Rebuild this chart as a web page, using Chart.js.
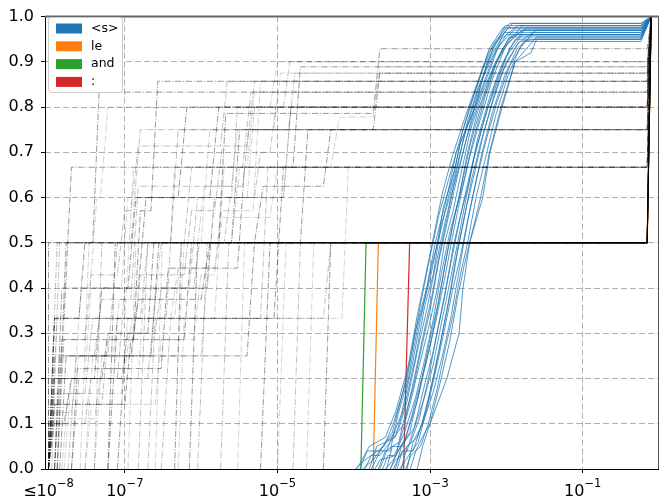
<!DOCTYPE html>
<html>
<head>
<meta charset="utf-8">
<script src="https://cdn.jsdelivr.net/npm/chart.js@4/dist/chart.umd.min.js"></script>
<style>
  html, body { margin: 0; padding: 0; background: #fff; }
  #wrap { width: 664px; height: 499px; }
</style>
</head>
<body>
<div id="wrap"><canvas id="chart" width="664" height="499"></canvas></div>
<script>
// axis ticks
const X_TICKS = [1e-8, 1e-7, 1e-5, 1e-3, 1e-1]
const X_TICK_PREFIX = ['≤', '', '', '', '']
const X_TICK_EXPONENTS = ['−8', '−7', '−5', '−3', '−1']
const Y_TICKS = [0, 0.1, 0.2, 0.3, 0.4, 0.5, 0.6, 0.7, 0.8, 0.9, 1.0]

// legend
const LEGEND_LABELS = ['<s>', 'le', 'and', ':']
const LEGEND_COLORS = ['#1f77b4', '#ff7f0e', '#2ca02c', '#d62728']

// curves as [x, y] pairs
const SERIES_LE = [[1.8e-4, 0], [2.1e-4, 0.5], [0.7, 0.5], [0.79, 1]]
const SERIES_AND = [[1.24e-4, 0], [1.45e-4, 0.5], [0.7, 0.5], [0.79, 1]]
const SERIES_COLON = [[4.5e-4, 0], [5.4e-4, 0.5], [0.7, 0.5], [0.79, 1]]

const SERIES_S = [
  [[1.05e-4,0],[1.4e-4,0.02],[2.5e-4,0.05],[3.3e-4,0.1],[5e-4,0.2],[6.3e-4,0.3],[9e-4,0.4],[1.17e-3,0.5],[1.66e-3,0.6],[2.2e-3,0.7],[3.9e-3,0.8],[5.6e-3,0.9],[9.6e-3,0.98],[0.58,0.98],[0.79,1]],
  [[1.2e-4,0],[1.5e-4,0.04],[3e-4,0.04],[3.8e-4,0.12],[5.2e-4,0.2],[7e-4,0.32],[1e-3,0.42],[1.25e-3,0.5],[1.5e-3,0.58],[2.1e-3,0.66],[2.6e-3,0.74],[4e-3,0.84],[5.8e-3,0.92],[1.05e-2,0.975],[0.58,0.975],[0.79,1]],
  [[1.4e-4,0],[1.7e-4,0.03],[2.2e-4,0.03],[3e-4,0.06],[4.2e-4,0.12],[6e-4,0.24],[7.5e-4,0.33],[1.05e-3,0.45],[1.35e-3,0.52],[1.9e-3,0.63],[2.5e-3,0.72],[3.5e-3,0.78],[5e-3,0.87],[7e-3,0.94],[1.2e-2,0.985],[0.58,0.985],[0.79,1]],
  [[1.6e-4,0],[2e-4,0.05],[3.5e-4,0.07],[4.8e-4,0.15],[6.5e-4,0.25],[8.5e-4,0.36],[1.1e-3,0.43],[1.4e-3,0.54],[1.8e-3,0.6],[2.4e-3,0.69],[3.2e-3,0.77],[4.5e-3,0.85],[6.5e-3,0.91],[1e-2,0.96],[0.58,0.96],[0.79,1]],
  [[1.9e-4,0],[2.2e-4,0.02],[3.6e-4,0.03],[4.4e-4,0.1],[6e-4,0.18],[8e-4,0.28],[1e-3,0.35],[1.3e-3,0.46],[1.7e-3,0.55],[2.3e-3,0.65],[3e-3,0.73],[4.4e-3,0.82],[6e-3,0.88],[8.5e-3,0.95],[1.4e-2,0.98],[0.58,0.98],[0.79,1]],
  [[2.1e-4,0],[2.6e-4,0.04],[4e-4,0.06],[5.4e-4,0.14],[7e-4,0.22],[9.5e-4,0.31],[1.25e-3,0.4],[1.55e-3,0.5],[2e-3,0.57],[2.6e-3,0.66],[3.4e-3,0.75],[4.8e-3,0.83],[7.2e-3,0.9],[1.1e-2,0.955],[0.58,0.955],[0.79,1]],
  [[2.4e-4,0],[2.8e-4,0.03],[3.4e-4,0.03],[4.6e-4,0.08],[6.5e-4,0.16],[8.2e-4,0.23],[1.1e-3,0.33],[1.4e-3,0.43],[1.8e-3,0.52],[2.4e-3,0.6],[3.1e-3,0.7],[4.2e-3,0.79],[6.2e-3,0.87],[9e-3,0.93],[1.6e-2,0.97],[0.58,0.97],[0.79,1]],
  [[2.7e-4,0],[3.2e-4,0.05],[4.5e-4,0.05],[5.8e-4,0.12],[7.8e-4,0.2],[1e-3,0.27],[1.3e-3,0.37],[1.65e-3,0.47],[2.1e-3,0.56],[2.8e-3,0.64],[3.6e-3,0.72],[5.2e-3,0.82],[7.5e-3,0.9],[1.2e-2,0.96],[0.58,0.96],[0.79,1]],
  [[3e-4,0],[3.5e-4,0.02],[5e-4,0.04],[6.4e-4,0.1],[8.6e-4,0.19],[1.1e-3,0.26],[1.45e-3,0.36],[1.8e-3,0.44],[2.3e-3,0.53],[3e-3,0.62],[3.9e-3,0.7],[5.5e-3,0.79],[7.8e-3,0.86],[1.1e-2,0.93],[1.8e-2,0.975],[0.58,0.975],[0.79,1]],
  [[3.3e-4,0],[4e-4,0.03],[5.6e-4,0.06],[7.2e-4,0.11],[9.5e-4,0.2],[1.2e-3,0.29],[1.55e-3,0.38],[2e-3,0.49],[2.5e-3,0.56],[3.2e-3,0.63],[4.2e-3,0.73],[6e-3,0.82],[8.5e-3,0.89],[1.3e-2,0.95],[0.58,0.95],[0.79,1]],
  [[3.7e-4,0],[4.3e-4,0.04],[6e-4,0.04],[7.8e-4,0.1],[1e-3,0.17],[1.3e-3,0.26],[1.7e-3,0.36],[2.1e-3,0.45],[2.7e-3,0.54],[3.5e-3,0.64],[4.6e-3,0.72],[6.3e-3,0.8],[9e-3,0.88],[1.4e-2,0.94],[2.2e-2,0.965],[0.58,0.965],[0.79,1]],
  [[4.2e-4,0],[5e-4,0.05],[6.8e-4,0.07],[8.5e-4,0.12],[1.1e-3,0.2],[1.45e-3,0.3],[1.9e-3,0.4],[2.4e-3,0.5],[3e-3,0.58],[3.9e-3,0.66],[5e-3,0.74],[7e-3,0.83],[1e-2,0.9],[1.5e-2,0.945],[2.5e-2,0.95],[0.58,0.95],[0.79,1]],
  [[4.8e-4,0],[5.6e-4,0.03],[7.5e-4,0.05],[9.5e-4,0.1],[1.25e-3,0.18],[1.6e-3,0.27],[2e-3,0.34],[2.5e-3,0.43],[3.1e-3,0.5],[4e-3,0.6],[5.2e-3,0.68],[7.2e-3,0.78],[1.05e-2,0.87],[1.5e-2,0.93],[2.4e-2,0.97],[0.58,0.97],[0.79,1]],
  [[5.5e-4,0],[6.5e-4,0.04],[8.5e-4,0.08],[1e-3,0.1],[1.4e-3,0.2],[1.8e-3,0.28],[2.3e-3,0.38],[2.8e-3,0.45],[3.3e-3,0.5],[4.6e-3,0.6],[6e-3,0.7],[8.5e-3,0.8],[1.3e-2,0.9],[2.5e-2,0.955],[0.58,0.955],[0.79,1]],
  [[6.8e-4,0],[8e-4,0.05],[1e-3,0.1],[1.66e-3,0.2],[2.4e-3,0.3],[2.7e-3,0.4],[3.3e-3,0.5],[4.9e-3,0.6],[6.1e-3,0.7],[8.8e-3,0.8],[1.3e-2,0.9],[2.1e-2,0.92],[2.5e-2,0.95],[0.58,0.95],[0.79,1]],
  [[1.3e-4,0],[1.8e-4,0.02],[3.2e-4,0.08],[4.4e-4,0.17],[5.8e-4,0.26],[7.6e-4,0.37],[1e-3,0.47],[1.3e-3,0.56],[1.75e-3,0.64],[2.3e-3,0.71],[3.3e-3,0.8],[4.8e-3,0.88],[6.8e-3,0.94],[1.1e-2,0.985],[0.58,0.985],[0.79,1]],
  [[1.7e-4,0],[2.4e-4,0.05],[3.9e-4,0.09],[5e-4,0.15],[7e-4,0.27],[9e-4,0.35],[1.15e-3,0.44],[1.5e-3,0.53],[2e-3,0.62],[2.7e-3,0.7],[3.7e-3,0.79],[5.2e-3,0.86],[7.5e-3,0.93],[1.25e-2,0.97],[0.58,0.97],[0.79,1]],
  [[2.2e-4,0],[3e-4,0.06],[4.6e-4,0.1],[6.2e-4,0.2],[8e-4,0.29],[1.05e-3,0.38],[1.35e-3,0.48],[1.75e-3,0.57],[2.3e-3,0.67],[3e-3,0.76],[4.2e-3,0.84],[6.2e-3,0.91],[9.5e-3,0.965],[0.58,0.965],[0.79,1]],
  [[2.6e-4,0],[3.3e-4,0.02],[4.8e-4,0.07],[6.8e-4,0.15],[9e-4,0.24],[1.2e-3,0.33],[1.55e-3,0.42],[1.95e-3,0.51],[2.5e-3,0.6],[3.3e-3,0.69],[4.5e-3,0.77],[6.5e-3,0.86],[9.5e-3,0.93],[1.6e-2,0.98],[0.58,0.98],[0.79,1]],
  [[3.5e-4,0],[4.2e-4,0.05],[6.2e-4,0.09],[8.5e-4,0.16],[1.1e-3,0.23],[1.4e-3,0.32],[1.8e-3,0.41],[2.3e-3,0.5],[2.9e-3,0.59],[3.7e-3,0.68],[4.9e-3,0.76],[6.8e-3,0.84],[9.8e-3,0.91],[1.6e-2,0.96],[0.58,0.96],[0.79,1]],
  [[4e-4,0],[4.8e-4,0.02],[7e-4,0.06],[9e-4,0.13],[1.2e-3,0.22],[1.55e-3,0.31],[2e-3,0.4],[2.5e-3,0.47],[3.2e-3,0.56],[4.2e-3,0.65],[5.5e-3,0.73],[7.5e-3,0.81],[1.1e-2,0.89],[1.7e-2,0.945],[0.58,0.945],[0.79,1]],
  [[1.1e-4,0],[1.6e-4,0.05],[2.6e-4,0.07],[3.6e-4,0.13],[5.2e-4,0.23],[6.8e-4,0.34],[8.8e-4,0.43],[1.1e-3,0.51],[1.45e-3,0.61],[1.95e-3,0.69],[2.9e-3,0.78],[4.3e-3,0.86],[6e-3,0.93],[9e-3,0.975],[0.58,0.975],[0.79,1]],
  [[3e-4,0],[3.8e-4,0.04],[5.4e-4,0.08],[7.4e-4,0.18],[9.8e-4,0.28],[1.25e-3,0.36],[1.6e-3,0.46],[2.05e-3,0.55],[2.6e-3,0.63],[3.4e-3,0.72],[4.8e-3,0.81],[7e-3,0.89],[1.05e-2,0.95],[1.7e-2,0.97],[0.58,0.97],[0.79,1]],
  [[5e-4,0],[6e-4,0.06],[8e-4,0.1],[1.1e-3,0.17],[1.45e-3,0.25],[1.85e-3,0.33],[2.3e-3,0.42],[2.9e-3,0.52],[3.7e-3,0.61],[4.8e-3,0.7],[6.6e-3,0.79],[9.5e-3,0.87],[1.4e-2,0.93],[2.2e-2,0.96],[0.58,0.96],[0.79,1]],
]

const SERIES_OTHER = [
  [[1e-8,0],[1e-8,0.5],[0.7,0.5],[0.79,1]],
  [[1.1e-8,0],[1.4e-8,0.5],[0.7,0.5],[0.79,1]],
  [[2.6e-8,0],[3.4e-8,0.5],[0.7,0.5],[0.79,1]],
  [[6e-8,0],[7.5e-8,0.5],[0.7,0.5],[0.79,1]],
  [[1.5e-7,0],[2e-7,0.5],[0.7,0.5],[0.79,1]],
  [[2.5e-7,0],[3.1e-7,0.5],[0.7,0.5],[0.79,1]],
  [[4.5e-7,0],[5.5e-7,0.5],[0.7,0.5],[0.79,1]],
  [[9e-7,0],[1.2e-6,0.5],[0.7,0.5],[0.79,1]],
  [[3e-6,0],[3.7e-6,0.5],[0.7,0.5],[0.79,1]],
  [[6e-6,0],[8e-6,0.5],[0.7,0.5],[0.79,1]],
  [[1.6e-5,0],[2e-5,0.5],[0.7,0.5],[0.79,1]],
  [[2.4e-5,0],[3e-5,0.5],[0.7,0.5],[0.79,1]],
  [[1.3e-8,0],[1.7e-8,0.5],[0.7,0.5],[0.79,1]],
  [[4e-8,0],[5e-8,0.5],[0.7,0.5],[0.79,1]],
  [[1.1e-7,0],[1.4e-7,0.5],[0.7,0.5],[0.79,1]],
  [[7e-7,0],[9e-7,0.5],[0.7,0.5],[0.79,1]],
  [[1.8e-6,0],[2.3e-6,0.5],[0.7,0.5],[0.79,1]],
  [[1e-5,0],[1.3e-5,0.5],[0.7,0.5],[0.79,1]],
  [[4e-5,0],[5e-5,0.5],[0.7,0.5],[0.79,1]],
  [[1e-8,0],[1.2e-8,0.333],[3.5e-7,0.333],[4.5e-7,0.667],[0.7,0.667],[0.79,1]],
  [[1.3e-8,0],[1.6e-8,0.333],[1.5e-6,0.333],[2e-6,0.667],[0.7,0.667],[0.79,1]],
  [[6e-8,0],[8e-8,0.333],[9e-6,0.333],[1.2e-5,0.667],[0.7,0.667],[0.79,1]],
  [[3e-7,0],[4e-7,0.333],[4e-5,0.333],[5e-5,0.5],[0.7,0.5],[0.79,1]],
  [[5e-7,0],[6e-7,0.333],[7e-5,0.333],[8.5e-5,0.667],[0.7,0.667],[0.79,1]],
  [[1e-8,0],[1.2e-8,0.333],[1.6e-8,0.333],[2e-8,0.667],[0.7,0.667],[0.79,1]],
  [[2e-7,0],[2.5e-7,0.333],[6e-6,0.333],[7.5e-6,0.667],[0.7,0.667],[0.79,1]],
  [[1e-8,0],[1.3e-8,0.333],[1e-7,0.333],[1.3e-7,0.667],[0.7,0.667],[0.79,1]],
  [[1e-8,0],[1.2e-8,0.25],[2.2e-7,0.25],[2.8e-7,0.5],[2.5e-6,0.5],[3.2e-6,0.75],[0.7,0.75],[0.79,1]],
  [[1.8e-8,0],[2.3e-8,0.25],[6e-8,0.25],[8e-8,0.5],[1.2e-7,0.5],[1.6e-7,0.75],[0.7,0.75],[0.79,1]],
  [[4e-8,0],[5e-8,0.25],[1e-6,0.25],[1.3e-6,0.5],[0.7,0.5],[0.79,1]],
  [[8e-8,0],[1e-7,0.25],[4e-6,0.25],[5e-6,0.5],[2e-5,0.5],[2.5e-5,0.75],[0.7,0.75],[0.79,1]],
  [[1e-8,0],[1.3e-8,0.5],[4e-7,0.5],[5e-7,0.75],[0.7,0.75],[0.79,1]],
  [[3e-8,0],[3.8e-8,0.25],[5e-7,0.25],[6e-7,0.5],[1e-6,0.5],[1.3e-6,0.75],[0.7,0.75],[0.79,1]],
  [[1e-8,0],[1.2e-8,0.2],[4e-8,0.2],[5e-8,0.4],[1.1e-7,0.4],[1.4e-7,0.6],[5e-7,0.6],[6.5e-7,0.8],[0.7,0.8],[0.79,1]],
  [[2e-8,0],[2.5e-8,0.2],[2e-7,0.2],[2.6e-7,0.4],[1.2e-6,0.4],[1.5e-6,0.6],[1.2e-5,0.6],[1.5e-5,0.8],[0.7,0.8],[0.79,1]],
  [[1e-8,0],[1.2e-8,0.2],[2.2e-8,0.2],[2.7e-8,0.4],[3.5e-8,0.4],[4.3e-8,0.6],[4.8e-8,0.6],[6e-8,0.8],[0.7,0.8],[0.79,1]],
  [[1.2e-8,0],[1.5e-8,0.4],[1.5e-7,0.4],[1.9e-7,0.6],[1.3e-6,0.6],[1.7e-6,0.8],[0.7,0.8],[0.79,1]],
  [[1e-8,0],[1e-8,0.2],[8e-8,0.2],[1e-7,0.4],[7e-7,0.4],[9e-7,0.6],[2.5e-6,0.6],[3e-6,0.8],[0.7,0.8],[0.79,1]],
  [[1e-8,0],[1.2e-8,0.2],[3e-8,0.2],[3.6e-8,0.4],[9e-8,0.4],[1.1e-7,0.6],[1.2e-5,0.6],[1.5e-5,0.8],[0.7,0.8],[0.79,1]],
  [[1e-8,0],[1e-8,0.1],[1.6e-8,0.1],[2e-8,0.2],[5e-8,0.2],[6e-8,0.3],[2e-7,0.3],[2.4e-7,0.5],[0.7,0.5],[0.79,1]],
  [[1e-8,0],[1.2e-8,0.167],[3e-8,0.167],[3.8e-8,0.333],[1.6e-7,0.333],[2e-7,0.5],[6e-7,0.5],[7.5e-7,0.667],[3.5e-6,0.667],[4.5e-6,0.833],[0.7,0.833],[0.79,1]],
  [[1.5e-8,0],[1.8e-8,0.167],[9e-8,0.167],[1.1e-7,0.333],[4.5e-7,0.333],[5.5e-7,0.5],[2.5e-6,0.5],[3.2e-6,0.667],[4e-6,0.667],[5e-6,0.833],[0.7,0.833],[0.79,1]],
  [[1e-8,0],[1.2e-8,0.333],[2.5e-8,0.333],[3e-8,0.5],[3.8e-8,0.5],[4.6e-8,0.833],[0.7,0.833],[0.79,1]],
  [[1e-8,0],[1.2e-8,0.143],[5e-8,0.143],[6e-8,0.286],[1.3e-7,0.286],[1.6e-7,0.429],[6e-7,0.429],[7.5e-7,0.571],[1.5e-6,0.571],[1.9e-6,0.714],[4e-6,0.714],[5e-6,0.857],[0.7,0.857],[0.79,1]],
  [[3e-8,0],[3.7e-8,0.143],[2.5e-7,0.143],[3e-7,0.286],[8e-7,0.286],[1e-6,0.429],[1.5e-6,0.429],[1.8e-6,0.571],[4.8e-6,0.571],[6e-6,0.857],[0.7,0.857],[0.79,1]],
  [[1.2e-8,0],[1.5e-8,0.286],[1.3e-7,0.286],[1.6e-7,0.571],[2.2e-7,0.571],[2.7e-7,0.857],[0.7,0.857],[0.79,1]],
  [[1.3e-8,0],[1.6e-8,0.286],[3e-8,0.286],[3.6e-8,0.429],[8e-8,0.429],[1e-7,0.571],[1.2e-7,0.571],[1.5e-7,0.714],[1.8e-6,0.714],[2.2e-6,0.857],[0.7,0.857],[0.79,1]],
  [[1e-8,0],[1.2e-8,0.125],[2e-8,0.125],[2.5e-8,0.25],[7e-8,0.25],[8.5e-8,0.375],[2.5e-7,0.375],[3e-7,0.5],[9e-7,0.5],[1.1e-6,0.625],[2.5e-6,0.625],[3e-6,0.75],[9e-6,0.75],[1.1e-5,0.875],[0.7,0.875],[0.79,1]],
  [[1.4e-8,0],[1.7e-8,0.25],[1.2e-7,0.25],[1.5e-7,0.375],[1e-6,0.375],[1.3e-6,0.5],[5e-6,0.5],[6.5e-6,0.625],[4e-5,0.625],[5e-5,0.75],[1.8e-4,0.75],[2.2e-4,0.875],[0.7,0.875],[0.79,1]],
  [[1.2e-8,0],[1.4e-8,0.25],[4e-8,0.25],[5e-8,0.375],[1.2e-7,0.375],[1.5e-7,0.625],[3.5e-6,0.625],[4.2e-6,0.75],[1.4e-5,0.75],[1.7e-5,0.875],[0.7,0.875],[0.79,1]],
  [[1e-8,0],[1.2e-8,0.111],[4e-8,0.111],[5e-8,0.222],[1e-7,0.222],[1.25e-7,0.333],[4e-7,0.333],[5e-7,0.444],[1.5e-6,0.444],[1.9e-6,0.556],[8e-6,0.556],[1e-5,0.667],[5e-5,0.667],[6.5e-5,0.778],[1.8e-4,0.778],[2.2e-4,0.889],[0.7,0.889],[0.79,1]],
  [[2e-8,0],[2.4e-8,0.222],[3e-7,0.222],[3.7e-7,0.444],[3e-6,0.444],[3.7e-6,0.667],[1.6e-5,0.667],[2e-5,0.889],[0.7,0.889],[0.79,1]],
  [[1e-8,0],[1.2e-8,0.1],[3e-8,0.1],[3.6e-8,0.2],[9e-8,0.2],[1.1e-7,0.3],[2.5e-7,0.3],[3e-7,0.4],[8e-7,0.4],[9.5e-7,0.5],[2e-6,0.5],[2.4e-6,0.6],[5e-6,0.6],[6e-6,0.7],[8e-6,0.7],[9.5e-6,0.8],[1.2e-5,0.8],[1.45e-5,0.9],[0.7,0.9],[0.79,1]],
  [[1.6e-8,0],[2e-8,0.2],[1.5e-7,0.2],[1.8e-7,0.4],[1.2e-6,0.4],[1.5e-6,0.6],[4e-6,0.6],[5e-6,0.8],[8e-6,0.8],[1e-5,0.9],[0.7,0.9],[0.79,1]],
  [[1e-8,0],[1.2e-8,0.143],[1e-7,0.143],[1.2e-7,0.286],[6e-7,0.286],[7.5e-7,0.5],[1.7e-6,0.5],[2.1e-6,0.786],[1.8e-4,0.786],[2.2e-4,0.929],[0.7,0.929],[0.79,1]],
]

const toPoints = (pairs) => pairs.map(([x, y]) => ({ x, y }))

const datasets = []
SERIES_OTHER.forEach((s, i) => {
  datasets.push({
    data: toPoints(s),
    borderColor: ['rgba(0,0,0,0.4)', 'rgba(0,0,0,0.25)', 'rgba(0,0,0,0.18)'][i % 3],
    borderWidth: 1,
    borderDash: [6.4, 1.6, 1, 1.6],
    order: 0,
  })
})
SERIES_S.forEach((s) => {
  datasets.push({
    data: toPoints(s),
    borderColor: 'rgba(31,119,180,0.75)',
    borderWidth: 1,
    order: 1,
  })
})
;[[SERIES_LE, '#ff7f0e'], [SERIES_AND, '#2ca02c'], [SERIES_COLON, '#d62728']].forEach(([s, c]) => {
  datasets.push({ data: toPoints(s), borderColor: c, borderWidth: 1.2, order: 2 })
})

const framePlugin = {
  id: 'frame',
  afterDatasetsDraw(chart) {
    const { ctx, chartArea: a } = chart
    ctx.save()
    ctx.lineWidth = 1
    ctx.strokeStyle = '#000'
    ctx.beginPath()
    ctx.moveTo(a.left + 0.5, a.top)
    ctx.lineTo(a.left + 0.5, a.bottom + 0.5)
    ctx.lineTo(a.right, a.bottom + 0.5)
    ctx.stroke()
    ctx.strokeStyle = '#555'
    ctx.beginPath()
    ctx.moveTo(a.right - 0.5, a.top)
    ctx.lineTo(a.right - 0.5, a.bottom)
    ctx.stroke()
    ctx.strokeStyle = '#666'
    ctx.lineWidth = 2
    ctx.beginPath()
    ctx.moveTo(a.left, a.top)
    ctx.lineTo(a.right, a.top)
    ctx.stroke()

    // x tick labels with raised exponents
    const xs = chart.scales.x
    ctx.fillStyle = '#000'
    ctx.textBaseline = 'alphabetic'
    ctx.textAlign = 'left'
    X_TICKS.forEach((v, i) => {
      const base = X_TICK_PREFIX[i] + '10'
      const exp = X_TICK_EXPONENTS[i]
      ctx.font = '16px "DejaVu Sans"'
      const wb = ctx.measureText(base).width
      ctx.font = '11.5px "DejaVu Sans"'
      const we = ctx.measureText(exp).width
      const x0 = xs.getPixelForValue(v) - (wb + we) / 2
      ctx.font = '16px "DejaVu Sans"'
      ctx.fillText(base, x0, 496)
      ctx.font = '11.5px "DejaVu Sans"'
      ctx.fillText(exp, x0 + wb, 487)
    })

    // legend box
    const bx = 48.5, by = 17.5, bw = 74, bh = 75
    ctx.fillStyle = 'rgba(255,255,255,0.85)'
    ctx.strokeStyle = '#cccccc'
    ctx.lineWidth = 1
    ctx.beginPath()
    ctx.roundRect(bx, by, bw, bh, 3)
    ctx.fill()
    ctx.stroke()
    ctx.font = '12.5px "DejaVu Sans"'
    ctx.textBaseline = 'middle'
    ctx.textAlign = 'left'
    LEGEND_LABELS.forEach((label, i) => {
      const cy = 28.5 + i * 17.8
      ctx.fillStyle = LEGEND_COLORS[i]
      ctx.fillRect(56, cy - 5, 26, 10)
      ctx.fillStyle = '#000'
      ctx.fillText(label, 91, cy)
    })
    ctx.restore()
  },
}

new Chart(document.getElementById('chart').getContext('2d'), {
  type: 'line',
  data: { datasets },
  options: {
    responsive: false,
    animation: false,
    devicePixelRatio: 1,
    layout: { padding: { top: 12, right: 5, left: 0, bottom: 0 } },
    elements: { point: { radius: 0 }, line: { tension: 0, fill: false } },
    plugins: { legend: { display: false }, tooltip: { enabled: false } },
    scales: {
      x: {
        type: 'logarithmic',
        min: 9e-9,
        max: 1,
        afterBuildTicks: (axis) => { axis.ticks = X_TICKS.map((v) => ({ value: v })) },
        afterFit: (axis) => { axis.height = 30 },
        ticks: {
          autoSkip: false,
          maxRotation: 0,
          color: 'rgba(0,0,0,0)',
          font: { family: 'DejaVu Sans', size: 16 },
          callback: () => '',
        },
        grid: {
          color: (c) => (c.index === 0 ? 'rgba(0,0,0,0)' : '#b0b0b0'),
          lineWidth: 1,
          drawTicks: true,
          tickLength: 4,
          tickWidth: 1,
          tickColor: (c) => (c.index === 0 ? 'rgba(0,0,0,0)' : '#000'),
          tickBorderDash: [],
        },
        border: { display: false, dash: [6, 3] },
      },
      y: {
        type: 'linear',
        min: 0,
        max: 1,
        afterBuildTicks: (axis) => { axis.ticks = Y_TICKS.map((v) => ({ value: v })) },
        afterFit: (axis) => { axis.width = 45 },
        ticks: {
          padding: 7,
          color: '#000',
          font: { family: 'DejaVu Sans', size: 16 },
          callback: (v) => Number(v).toFixed(1),
        },
        grid: {
          color: '#b0b0b0',
          lineWidth: 1,
          drawTicks: true,
          tickLength: 4,
          tickWidth: 1,
          tickColor: '#000',
          tickBorderDash: [],
        },
        border: { display: false, dash: [6, 3] },
      },
    },
  },
  plugins: [framePlugin],
})
</script>
</body>
</html>
